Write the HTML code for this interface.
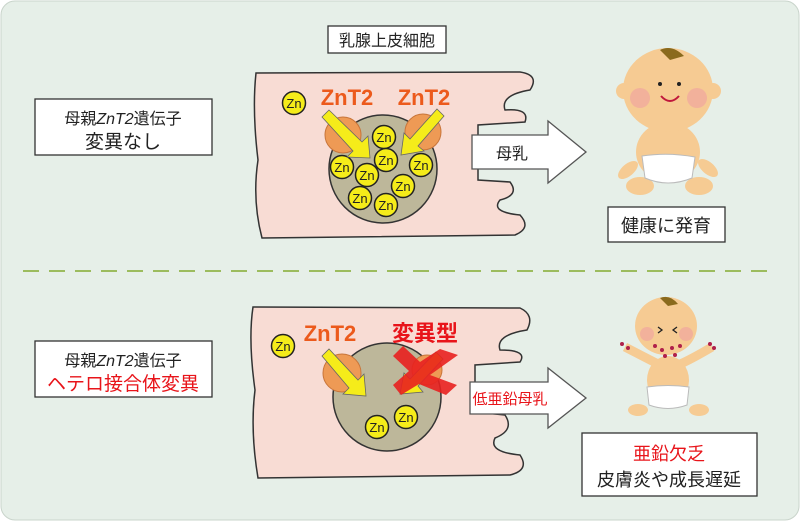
<!DOCTYPE html>
<html><head><meta charset="utf-8"><style>
body{margin:0;background:#fff}
svg{display:block}
text{font-family:"Liberation Sans","Noto Sans CJK JP",sans-serif}
</style></head><body>
<svg width="800" height="521" viewBox="0 0 800 521" xmlns="http://www.w3.org/2000/svg">
<defs>
<g id="zn"><circle r="11.5" fill="#f5ec1a" stroke="#222" stroke-width="1.5"/><text y="5" text-anchor="middle" font-size="13" fill="#222">Zn</text></g>
</defs>
<rect x="1" y="1" width="798" height="519" rx="14" fill="#e6efe8" stroke="#c9d4cb"/>
<line x1="23" y1="271" x2="770" y2="271" stroke="#9cbc5e" stroke-width="2" stroke-dasharray="16,10"/>

<rect x="328" y="26" width="118" height="27" fill="#fff" stroke="#333" stroke-width="1.3"/>
<text x="387" y="46" text-anchor="middle" font-size="16" fill="#222">乳腺上皮細胞</text>
<rect x="35" y="99" width="177" height="56" fill="#fff" stroke="#333" stroke-width="1.3"/>
<text x="123" y="124" text-anchor="middle" font-size="16" fill="#222">母親<tspan font-style="italic">ZnT2</tspan>遺伝子</text>
<text x="123" y="148" text-anchor="middle" font-size="19" fill="#222">変異なし</text>

<!-- top cell -->
<path d="M256,73 L520,72 Q540,75 530,90 Q500,95 505,110 Q530,108 525,122 L478,125 L478,180 L510,182 Q520,195 500,200 Q490,212 520,215 Q532,228 515,235 L262,238 Q252,200 258,160 Q252,110 256,73 Z" fill="#f8dcd4" stroke="#333" stroke-width="1.5"/>
<circle cx="383" cy="169" r="54" fill="#bdb79a" stroke="#333" stroke-width="1.5"/>
<circle cx="343" cy="135" r="18" fill="#ee9a55" stroke="#c8753a"/>
<circle cx="423" cy="132" r="18" fill="#ee9a55" stroke="#c8753a"/>
<text x="347" y="105" text-anchor="middle" font-size="22" font-weight="bold" fill="#ec5a1c">ZnT2</text>
<text x="424" y="105" text-anchor="middle" font-size="22" font-weight="bold" fill="#ec5a1c">ZnT2</text>
<use href="#zn" x="294" y="103"/>
<use href="#zn" x="384" y="137"/><use href="#zn" x="386" y="160"/>
<use href="#zn" x="342" y="167"/><use href="#zn" x="367" y="175"/>
<use href="#zn" x="421" y="165"/><use href="#zn" x="403" y="186"/>
<use href="#zn" x="360" y="198"/><use href="#zn" x="386" y="205"/>
<polygon points="322,117 329,110 362,142 368,136 370,158 347,157 353,151" fill="#f5ec1a" stroke="#666" stroke-width="0.8"/>
<polygon points="437,109 444,116 418,146 424,151 401,155 404,133 410,139" fill="#f5ec1a" stroke="#666" stroke-width="0.8"/>

<polygon points="472,135 548,135 548,121 586,152 548,183 548,169 472,169" fill="#fff" stroke="#555" stroke-width="1.3"/>
<text x="512" y="159" text-anchor="middle" font-size="16" fill="#222">母乳</text>

<!-- top baby -->
<g>
<ellipse cx="628" cy="170" rx="12" ry="6" fill="#f6cb93" transform="rotate(-40 628 170)"/>
<ellipse cx="708" cy="168" rx="12" ry="6" fill="#f6cb93" transform="rotate(40 708 168)"/>
<ellipse cx="640" cy="186" rx="14" ry="9" fill="#f6cb93"/>
<ellipse cx="699" cy="186" rx="14" ry="9" fill="#f6cb93"/>
<ellipse cx="668" cy="152" rx="32" ry="30" fill="#f6cb93"/>
<path d="M642,156 Q668,152 695,157 L692,178 Q668,188 645,178 Z" fill="#fff" stroke="#bbb"/>
<circle cx="624" cy="91" r="8" fill="#f6cb93"/><circle cx="713" cy="91" r="8" fill="#f6cb93"/>
<ellipse cx="668" cy="90" rx="45" ry="42" fill="#f6cb93"/>
<path d="M660,50 Q672,44 684,56 L670,60 Z" fill="#8a6a1d"/>
<circle cx="640" cy="98" r="10" fill="#f0a0a0" opacity=".6"/><circle cx="697" cy="98" r="10" fill="#f0a0a0" opacity=".6"/>
<circle cx="660" cy="84" r="2" fill="#222"/><circle cx="679" cy="84" r="2" fill="#222"/>
<path d="M661,96 Q670,106 679,96" fill="none" stroke="#c0183c" stroke-width="2"/>
</g>
<rect x="608" y="207" width="117" height="35" fill="#fff" stroke="#333" stroke-width="1.3"/>
<text x="666" y="232" text-anchor="middle" font-size="18" fill="#222">健康に発育</text>

<rect x="35" y="341" width="177" height="56" fill="#fff" stroke="#333" stroke-width="1.3"/>
<text x="123" y="366" text-anchor="middle" font-size="16" fill="#222">母親<tspan font-style="italic">ZnT2</tspan>遺伝子</text>
<text x="123" y="390" text-anchor="middle" font-size="19" fill="#e8141a">ヘテロ接合体変異</text>

<!-- bottom cell -->
<path d="M253,307 L520,308 Q535,315 527,330 Q495,335 500,350 Q528,350 520,362 L475,365 L475,412 L505,415 Q515,430 495,438 Q488,452 520,455 Q530,470 510,475 L258,478 Q250,430 255,390 Q248,340 253,307 Z" fill="#f8dcd4" stroke="#333" stroke-width="1.5"/>
<circle cx="387" cy="397" r="54" fill="#bdb79a" stroke="#333" stroke-width="1.5"/>
<circle cx="342" cy="373" r="19" fill="#ee9a55" stroke="#c8753a"/>
<circle cx="427" cy="370" r="15" fill="#ee9a55" stroke="#c8753a"/>
<text x="330" y="341" text-anchor="middle" font-size="22" font-weight="bold" fill="#ec5a1c">ZnT2</text>
<text x="425" y="341" text-anchor="middle" font-size="22" font-weight="bold" fill="#e8141a">変異型</text>
<use href="#zn" x="283" y="346"/>
<use href="#zn" x="377" y="427"/><use href="#zn" x="406" y="417"/>
<polygon points="322,356 329,349 358,380 364,374 366,396 343,394 349,388" fill="#f5ec1a" stroke="#666" stroke-width="0.8"/>
<polygon points="436,352 443,359 418,386 423,392 400,394 404,373 410,379" fill="#f5ec1a" stroke="#666" stroke-width="0.8"/>
<polygon points="393,356 403,346 420,362 440,349 458,355 430,375 457,385 446,395 419,384 401,395 393,385 409,371" fill="#e8201f" opacity=".9"/>

<polygon points="470,382 548,382 548,368 586,398 548,428 548,414 470,414" fill="#fff" stroke="#555" stroke-width="1.3"/>
<text x="510" y="404" text-anchor="middle" font-size="15" fill="#e8141a">低亜鉛母乳</text>

<!-- bottom baby -->
<g>
<path d="M625,347 Q650,360 660,365" stroke="#f6cb93" stroke-width="9" fill="none"/>
<path d="M712,347 Q690,360 678,365" stroke="#f6cb93" stroke-width="9" fill="none"/>
<ellipse cx="638" cy="410" rx="10" ry="6" fill="#f6cb93"/>
<ellipse cx="699" cy="410" rx="10" ry="6" fill="#f6cb93"/>
<ellipse cx="668" cy="380" rx="21" ry="24" fill="#f6cb93"/>
<path d="M647,387 Q668,384 689,387 L687,405 Q668,412 649,405 Z" fill="#fff" stroke="#bbb"/>
<ellipse cx="666" cy="326" rx="31" ry="29" fill="#f6cb93"/>
<path d="M660,298 Q670,294 678,304 L668,306 Z" fill="#8a6a1d"/>
<circle cx="647" cy="334" r="7" fill="#f0a0a0" opacity=".6"/><circle cx="686" cy="334" r="7" fill="#f0a0a0" opacity=".6"/>
<path d="M658,327 l4,3 -4,3 M677,327 l-4,3 4,3" stroke="#222" fill="none" stroke-width="1.3"/>
<g fill="#b0204a"><circle cx="655" cy="346" r="2"/><circle cx="662" cy="350" r="2"/><circle cx="672" cy="348" r="2"/><circle cx="680" cy="346" r="2"/><circle cx="665" cy="356" r="2"/><circle cx="675" cy="355" r="2"/><circle cx="628" cy="348" r="2"/><circle cx="622" cy="344" r="2"/><circle cx="710" cy="344" r="2"/><circle cx="714" cy="348" r="2"/></g>
</g>
<rect x="582" y="433" width="175" height="63" fill="#fff" stroke="#333" stroke-width="1.3"/>
<text x="669" y="460" text-anchor="middle" font-size="18" fill="#e8141a">亜鉛欠乏</text>
<text x="669" y="486" text-anchor="middle" font-size="18" fill="#222">皮膚炎や成長遅延</text>
</svg>
</body></html>
